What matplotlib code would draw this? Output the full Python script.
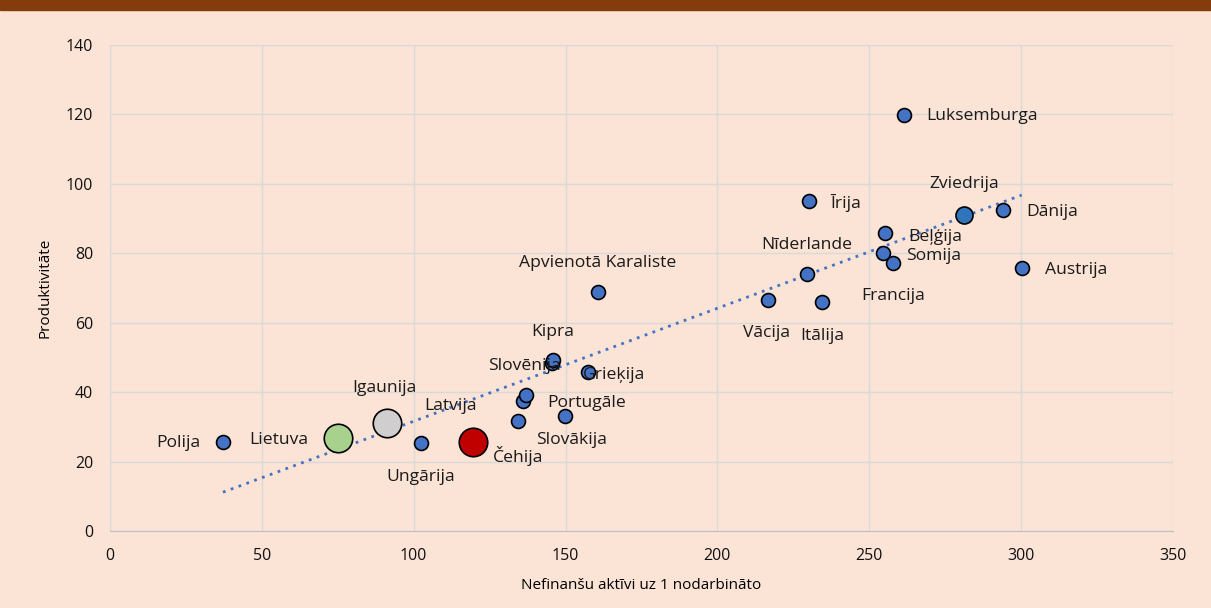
import matplotlib.pyplot as plt
import numpy as np

plt.rcParams['font.family'] = ['Open Sans', 'DejaVu Sans']

# data ("" = point without a data label)
countries = ["Polija", "Lietuva", "Igaunija", "Ungārija", "Čehija", "Latvija",
             "", "Portugāle", "Slovākija", "Slovēnija", "Kipra", "Grieķija",
             "Apvienotā Karaliste", "Vācija", "Itālija", "Nīderlande", "Īrija",
             "Beļģija", "Somija", "Francija", "Zviedrija", "Dānija", "Austrija",
             "Luksemburga"]
assets = [37.2, 75.1, 91.2, 102.4, 119.5, 134.4,
          136.0, 137.0, 149.8, 145.6, 146.0, 157.4,
          160.7, 216.5, 234.4, 229.5, 230.2,
          255.2, 254.6, 257.9, 281.3, 293.9, 300.2,
          261.4]
productivity = [25.6, 26.8, 31.1, 25.4, 25.6, 31.7,
                37.5, 39.2, 33.1, 48.4, 49.2, 45.8,
                68.9, 66.5, 65.9, 74.1, 95.0,
                85.9, 80.0, 77.3, 91.0, 92.4, 75.9,
                119.9]

# highlighted points
highlight = {"Lietuva": "#A9D18E", "Igaunija": "#D0CECE", "Čehija": "#C00000"}

# label positions (data coords)
label_pos = {
    "Polija": (22.4, 25.4), "Lietuva": (55.6, 26.2), "Igaunija": (90.5, 41.2),
    "Ungārija": (102.4, 15.6), "Čehija": (134.3, 21.6), "Latvija": (112.0, 36.0),
    "Slovākija": (152.1, 26.2), "Portugāle": (157.1, 37.0), "Slovēnija": (136.6, 47.5),
    "Kipra": (145.9, 57.3), "Grieķija": (166.0, 45.0), "Apvienotā Karaliste": (160.7, 77.2),
    "Vācija": (216.3, 57.0), "Itālija": (234.4, 56.2), "Nīderlande": (229.5, 82.4),
    "Īrija": (242.3, 94.5), "Beļģija": (271.6, 84.7), "Somija": (271.3, 79.2),
    "Francija": (257.8, 67.7), "Zviedrija": (281.2, 100.0), "Dānija": (310.2, 91.9),
    "Austrija": (318.1, 75.2), "Luksemburga": (287.1, 119.6),
}

bg = "#FBE3D6"
fig = plt.figure(figsize=(12.11, 6.08), dpi=100, facecolor=bg)
ax = fig.add_axes([0.0908, 0.1266, 0.8778, 0.7994])
ax.set_facecolor(bg)

# top band
fig.patches.append(plt.Rectangle((0, 0.983), 1, 0.017, transform=fig.transFigure,
                                 color="#843C0C", zorder=0))

x = np.array(assets)
y = np.array(productivity)

# trendline
k, b = np.polyfit(x, y, 1)
xl = np.array([x.min(), x.max()])
ax.plot(xl, k * xl + b, linestyle=(0, (1, 2)), color="#4472C4", lw=2, zorder=2)

for c, xi, yi in zip(countries, x, y):
    if c in highlight:
        ax.scatter(xi, yi, s=420, color=highlight[c], edgecolor="black", lw=1.2, zorder=3)
    elif c == "Zviedrija":
        ax.scatter(xi, yi, s=150, color="#2F74BC", edgecolor="black", lw=1.2, zorder=3)
    else:
        ax.scatter(xi, yi, s=100, color="#4472C4", edgecolor="black", lw=1.2, zorder=3)
    if c:
        lx, ly = label_pos[c]
        ax.text(lx, ly, c, fontsize=12.6, ha="center", va="center", color="#1a1a1a", zorder=4)

ax.set_xlim(0, 350)
ax.set_ylim(0, 140)
ax.set_xticks(np.arange(0, 351, 50))
ax.set_yticks(np.arange(0, 141, 20))
ax.grid(True, color="#D9D9D9", lw=1)
ax.set_axisbelow(True)
for s in ["top", "right"]:
    ax.spines[s].set_visible(False)
ax.spines["left"].set_color("#D9D9D9")
ax.spines["bottom"].set_color("#BFBFBF")
ax.tick_params(length=0, labelsize=11.5, colors="#111111", pad=12)
ax.set_xlabel("Nefinanšu aktīvi uz 1 nodarbināto", fontsize=11, labelpad=10)
ax.set_ylabel("Produktivitāte", fontsize=11, labelpad=10)

fig.savefig("out.png", dpi=100, facecolor=bg)
